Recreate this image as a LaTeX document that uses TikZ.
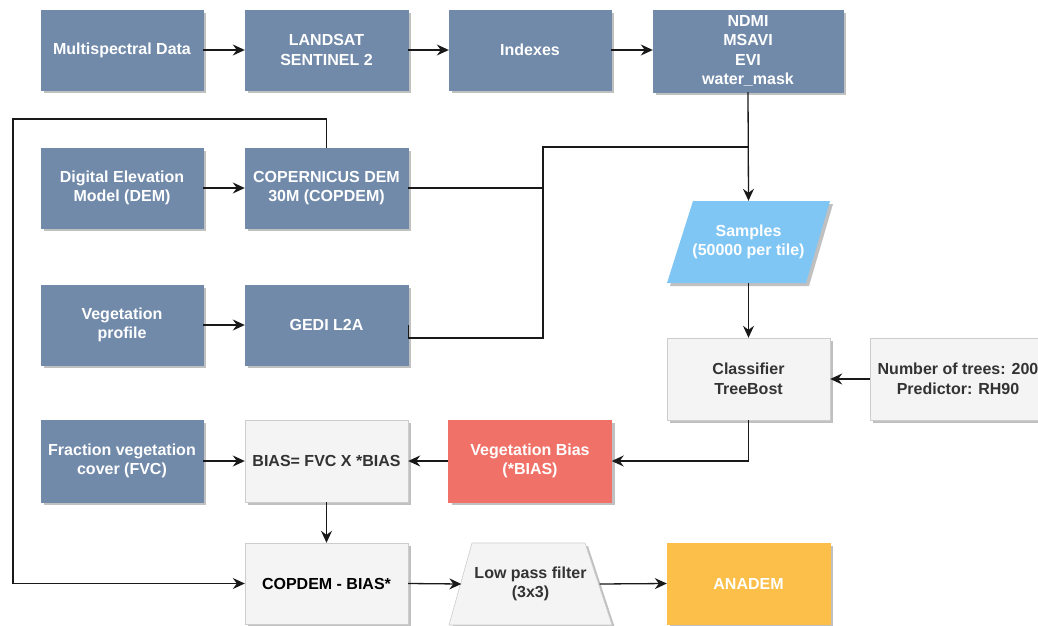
\documentclass[tikz,border=0pt]{standalone}
\usepackage{fontspec}
\setmainfont{Liberation Sans}
\usetikzlibrary{arrows.meta,shadows,calc}
\definecolor{bluef}{RGB}{113,138,170}
\definecolor{sampf}{RGB}{127,198,245}
\definecolor{grayf}{RGB}{244,244,244}
\definecolor{grayd}{RGB}{205,205,205}
\definecolor{redf}{RGB}{240,113,103}
\definecolor{orangef}{RGB}{251,191,74}
\definecolor{txtd}{RGB}{51,51,51}
\definecolor{shad}{RGB}{192,192,192}
\newcommand\dfont{\fontsize{16}{19.6}\selectfont\bfseries}
\tikzset{
  base/.style={rectangle, minimum width=162pt, minimum height=80pt, inner sep=2pt,
    align=center, font=\dfont,
    drop shadow={shadow xshift=3pt, shadow yshift=-3pt, fill=shad, opacity=1}},
  bluebox/.style={base, fill=bluef, draw=bluef, text=white},
  graybox/.style={base, fill=grayf, draw=grayd, text=txtd},
  redbox/.style={base, fill=redf, draw=redf, text=white},
  orangebox/.style={base, fill=orangef, draw=orangef, text=white},
  plain/.style={rectangle, inner sep=0pt, align=center, font=\dfont},
  conn/.style={line width=1.3pt, draw=black!90},
  arr/.style={conn, -{Stealth[length=12pt, width=11pt, inset=4pt]}},
}
\begin{document}
\begin{tikzpicture}[x=1pt, y=-1pt]
\useasboundingbox (0,0) rectangle (1038,626);
% row 1
\node[bluebox] (ms) at (122,50) {Multispectral Data};
\node[bluebox, minimum width=163pt] (ls) at (326.5,50) {LANDSAT\\SENTINEL 2};
\node[bluebox] (idx) at (530,50) {Indexes};
\node[bluebox, minimum width=190pt, minimum height=82pt] (nd) at (748,51) {NDMI\\MSAVI\\EVI\\water\_mask};
% row 2
\node[bluebox] (dem) at (122,188) {Digital Elevation\\Model (DEM)};
\node[bluebox, minimum width=163pt] (cop) at (326.5,188) {COPERNICUS DEM\\30M (COPDEM)};
% row 3
\node[bluebox] (vp) at (122,325) {Vegetation\\profile};
\node[bluebox, minimum width=163pt] (gedi) at (326.5,325) {GEDI L2A};
% samples parallelogram
\fill[shad] (670,286) -- (696,204) -- (833,204) -- (809,286) -- cycle;
\fill[sampf] (667,283) -- (693,201) -- (830,201) -- (806,283) -- cycle;
\node[plain, text=white, minimum width=138pt, minimum height=82pt] (smp) at (748.5,242) {Samples\\(50000 per tile)};
% classifier
\node[graybox, minimum width=163pt, minimum height=82pt] (cls) at (748.5,379) {Classifier\\TreeBost};
\node[graybox, minimum width=176pt, minimum height=82pt] (nt) at (958,379) {Number of trees: 200\\Predictor: RH90};
% row 4
\node[bluebox, minimum height=82pt] (fvc) at (122,461) {Fraction vegetation\\cover (FVC)};
\node[graybox, minimum width=163pt, minimum height=82pt] (bias) at (326.5,461) {BIAS= FVC X *BIAS};
\node[redbox, minimum width=163pt, minimum height=82pt] (vb) at (530,461) {Vegetation Bias\\(*BIAS)};
% row 5
\node[graybox, text=black, minimum width=163pt, minimum height=81pt] (cb) at (326.5,583.5) {COPDEM - BIAS*};
\fill[shad] (452,628) -- (475,546) -- (588,546) -- (615,628) -- cycle;
\filldraw[fill=grayf, draw=grayd, line width=0.6pt] (449,625) -- (472,543) -- (585,543) -- (612,625) -- cycle;
\node[plain, text=txtd, minimum width=138pt, minimum height=82pt] (lp) at (530.5,584) {Low pass filter\\(3x3)};
\node[orangebox, minimum width=163pt, minimum height=81pt] (an) at (748.5,583.5) {ANADEM};
% junction coordinates
\coordinate (j1) at (543,147);
\coordinate (j2) at (748,147);
\coordinate (lpA) at (13,119);
% connectors
\draw[arr] (ms) -- (ls);
\draw[arr] (ls) -- (idx);
\draw[arr] (idx) -- (nd.west |- idx.east);
\draw[arr] (dem) -- (cop);
\draw[arr] (vp) -- (gedi);
\draw[arr] (fvc) -- (bias);
\draw[arr] (vb) -- (bias);
\draw[arr] (nd.south) -- (smp.north);
\draw[conn] (cop.east) -| (j1) -- (j2);
\draw[conn] (gedi.east) -- ++(0,13) -| (j1);
\draw[arr] (smp.south) -- (cls.north);
\draw[arr] (nt.west) -- (cls.east);
\draw[arr] (cls.south) |- (vb.east);
\draw[arr] (bias.south) -- (cb.north);
\draw[arr] (cop.north) |- (lpA) |- (cb.west);
\draw[arr] (cb.east) -- (lp.west);
\draw[arr] (lp.east) -- (an.west);
\end{tikzpicture}
\end{document}
